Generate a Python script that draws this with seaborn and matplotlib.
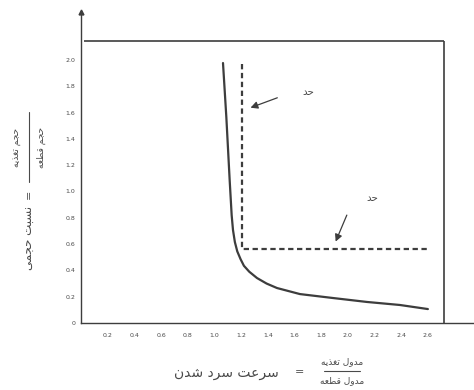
import matplotlib
matplotlib.use("Agg")
import matplotlib.pyplot as plt
import seaborn as sns
import pandas as pd
from matplotlib.lines import Line2D

# ---------------- data ----------------
curve_x = [1.063, 1.088, 1.113, 1.128, 1.138, 1.152, 1.17, 1.195, 1.22, 1.26, 1.318, 1.39, 1.468, 1.64, 1.888, 2.143, 2.39, 2.60]
curve_y = [1.977, 1.566, 1.087, 0.82, 0.707, 0.616, 0.545, 0.485, 0.435, 0.39, 0.342, 0.30, 0.266, 0.22, 0.19, 0.16, 0.137, 0.106]

limit_x = [1.205, 1.205, 2.60]
limit_y = [1.97, 0.56, 0.56]

box_top = 2.145
box_right = 2.72

x_ticks = [0.2, 0.4, 0.6, 0.8, 1.0, 1.2, 1.4, 1.6, 1.8, 2.0, 2.2, 2.4, 2.6]
y_ticks = [0, 0.2, 0.4, 0.6, 0.8, 1.0, 1.2, 1.4, 1.6, 1.8, 2.0]
y_tick_labels = ["0", "0.2", "0.4", "0.6", "0.8", "1.0", "1.2", "1.4", "1.6", "1.8", "2.0"]
x_tick_labels = ["0.2", "0.4", "0.6", "0.8", "1.0", "1.2", "1.4", "1.6", "1.8", "2.0", "2.2", "2.4", "2.6"]

limit_label = "حد"
xlabel_text = "سرعت سرد شدن"
xlabel_num = "مدول تغذیه"
xlabel_den = "مدول قطعه"
ylabel_text = "نسبت حجمی"
ylabel_num = "حجم تغذیه"
ylabel_den = "حجم قطعه"

# ---------------- minimal Arabic-script shaping ----------------
FORMS = {
    'ب': ('\uFE8F', '\uFE90', '\uFE91', '\uFE92'),
    'ت': ('\uFE95', '\uFE96', '\uFE97', '\uFE98'),
    'ج': ('\uFE9D', '\uFE9E', '\uFE9F', '\uFEA0'),
    'ح': ('\uFEA1', '\uFEA2', '\uFEA3', '\uFEA4'),
    'د': ('\uFEA9', '\uFEAA'),
    'ذ': ('\uFEAB', '\uFEAC'),
    'ر': ('\uFEAD', '\uFEAE'),
    'س': ('\uFEB1', '\uFEB2', '\uFEB3', '\uFEB4'),
    'ش': ('\uFEB5', '\uFEB6', '\uFEB7', '\uFEB8'),
    'ط': ('\uFEC1', '\uFEC2', '\uFEC3', '\uFEC4'),
    'ع': ('\uFEC9', '\uFECA', '\uFECB', '\uFECC'),
    'غ': ('\uFECD', '\uFECE', '\uFECF', '\uFED0'),
    'ق': ('\uFED5', '\uFED6', '\uFED7', '\uFED8'),
    'ل': ('\uFEDD', '\uFEDE', '\uFEDF', '\uFEE0'),
    'م': ('\uFEE1', '\uFEE2', '\uFEE3', '\uFEE4'),
    'ن': ('\uFEE5', '\uFEE6', '\uFEE7', '\uFEE8'),
    'ه': ('\uFEE9', '\uFEEA', '\uFEEB', '\uFEEC'),
    'و': ('\uFEED', '\uFEEE'),
    'ی': ('\uFBFC', '\uFBFD', '\uFBFE', '\uFBFF'),
}


def shape(s):
    out = []
    n = len(s)
    for i, ch in enumerate(s):
        if ch not in FORMS:
            out.append(ch)
            continue
        f = FORMS[ch]
        prev = s[i - 1] if i > 0 else None
        nxt = s[i + 1] if i < n - 1 else None
        jp = prev in FORMS and len(FORMS[prev]) == 4
        jn = len(f) == 4 and nxt in FORMS
        if jp and jn:
            out.append(f[3])
        elif jp:
            out.append(f[1])
        elif jn:
            out.append(f[2])
        else:
            out.append(f[0])
    return "".join(out[::-1])


# ---------------- figure ----------------
sns.set_theme(style="white")
plt.rcParams["font.family"] = ["DejaVu Sans"]

W, H = 474, 390
fig = plt.figure(figsize=(W / 100, H / 100), dpi=100)
x0px, y0px = 81.3, 323.0
ppx, ppy = 133.3, 131.5
ax = fig.add_axes([x0px / W, (H - y0px) / H, (473 - x0px) / W, (y0px - 12) / H])
ax.set_xlim(0, (473 - x0px) / ppx)
ax.set_ylim(0, (y0px - 12) / ppy)

line_col = "#3d3d3d"
txt_col = "#4a4a4a"

df_curve = pd.DataFrame({"x": curve_x, "y": curve_y})
sns.lineplot(data=df_curve, x="x", y="y", sort=False, estimator=None,
             color=line_col, lw=1.6, ax=ax)
df_lim = pd.DataFrame({"x": limit_x, "y": limit_y})
sns.lineplot(data=df_lim, x="x", y="y", sort=False, estimator=None,
             color=line_col, lw=1.6, ax=ax, dashes=False, linestyle=(0, (2.4, 1.6)))

# frame lines of the original figure
ax.hlines(box_top, 0.02, box_right, color=line_col, lw=1.2)
ax.vlines(box_right, 0, box_top, color=line_col, lw=1.2)

for s in ["top", "right"]:
    ax.spines[s].set_visible(False)
for s in ["left", "bottom"]:
    ax.spines[s].set_color(line_col)
    ax.spines[s].set_linewidth(1.0)

ax.set_xticks(x_ticks)
ax.set_xticklabels(x_tick_labels)
ax.set_yticks(y_ticks)
ax.set_yticklabels(y_tick_labels)
ax.tick_params(axis="x", direction="in", length=4, width=0.8, color=line_col,
               labelsize=4.5, labelcolor=txt_col, pad=7)
ax.tick_params(axis="y", direction="inout", length=5, width=0.8, color=line_col,
               labelsize=4.5, labelcolor=txt_col, pad=2)
ax.set_xlabel("")
ax.set_ylabel("")

# arrow head at top of y axis
ax.plot([0], [1], marker="^", ms=3.5, color=line_col, transform=ax.transAxes, clip_on=False)

# annotations
ax.annotate("", xy=(1.25, 1.63), xytext=(1.49, 1.72),
            arrowprops=dict(arrowstyle="-|>,head_length=0.35,head_width=0.18",
                            color=line_col, lw=0.9))
ax.text(1.70, 1.76, shape(limit_label), fontsize=7.5, color=txt_col,
        ha="center", va="center")
ax.annotate("", xy=(1.90, 0.60), xytext=(2.0, 0.84),
            arrowprops=dict(arrowstyle="-|>,head_length=0.35,head_width=0.18",
                            color=line_col, lw=0.9))
ax.text(2.18, 0.95, shape(limit_label), fontsize=7.5, color=txt_col,
        ha="center", va="center")


def fpos(x, y):
    return x / W, 1 - y / H


# x label
fig.text(*fpos(226, 373), shape(xlabel_text), fontsize=10, color=txt_col,
         ha="center", va="center")
fig.text(*fpos(300, 372), "=", fontsize=8, color=txt_col, ha="center", va="center")
fig.text(*fpos(342, 362), shape(xlabel_num), fontsize=6.5, color=txt_col,
         ha="center", va="center")
fig.text(*fpos(342, 381), shape(xlabel_den), fontsize=6.5, color=txt_col,
         ha="center", va="center")
fig.add_artist(Line2D([324 / W, 360 / W], [1 - 371 / H, 1 - 371 / H],
                      color=txt_col, lw=0.8))

# y label
fig.text(*fpos(29, 238), shape(ylabel_text), fontsize=8.5, color=txt_col,
         ha="center", va="center", rotation=90)
fig.text(*fpos(29, 194), "=", fontsize=8, color=txt_col, ha="center", va="center",
         rotation=90)
fig.text(*fpos(17, 147), shape(ylabel_num), fontsize=6.5, color=txt_col,
         ha="center", va="center", rotation=90)
fig.text(*fpos(41, 147), shape(ylabel_den), fontsize=6.5, color=txt_col,
         ha="center", va="center", rotation=90)
fig.add_artist(Line2D([29 / W, 29 / W], [1 - 112 / H, 1 - 182 / H],
                      color=txt_col, lw=0.8))

fig.savefig("out.png", dpi=100)
